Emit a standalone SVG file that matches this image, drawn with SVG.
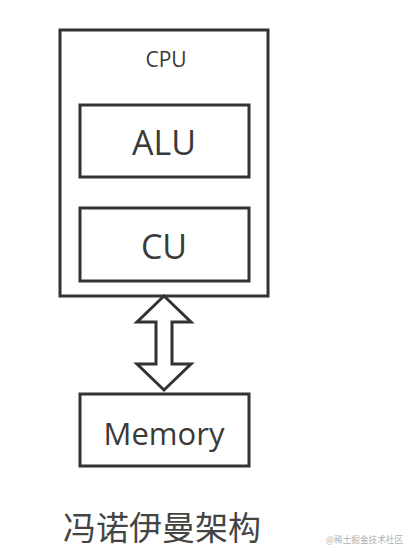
<svg xmlns="http://www.w3.org/2000/svg" width="418" height="556" viewBox="0 0 418 556">
<style>
.box{fill:#fff;stroke:#333;stroke-width:3}
.t{font-family:"Open Sans","Noto Sans",sans-serif;fill:#3a3a3a;text-anchor:middle}
</style>
<rect width="418" height="556" fill="#fff"/>
<g id="cpu">
<rect class="box" x="60" y="30" width="208" height="266"/>
<text class="t" x="166" y="67" font-size="21">CPU</text>
</g>
<g id="alu">
<rect class="box" x="80" y="105" width="169" height="72"/>
<text class="t" x="164" y="155" font-size="34">ALU</text>
</g>
<g id="cu">
<rect class="box" x="80" y="208" width="169" height="73"/>
<text class="t" x="164" y="259" font-size="34">CU</text>
</g>
<g id="memory">
<rect class="box" x="80" y="394" width="169" height="72"/>
<text class="t" x="164" y="445" font-size="31">Memory</text>
</g>
<g id="connectors">
<path d="M164,296 L191,322 L172,322 L172,364 L191,364 L164,390 L137,364 L156,364 L156,322 L137,322 Z" fill="#fff" stroke="#333" stroke-width="3" stroke-linejoin="miter"/>
</g>
<text x="63" y="540" font-family="Noto Sans CJK SC,sans-serif" font-size="33" fill="#444">冯诺伊曼架构</text>
<text x="326" y="543" font-family="Noto Sans CJK SC,sans-serif" font-size="9" textLength="77" lengthAdjust="spacingAndGlyphs" fill="#b0b0b0">@稀土掘金技术社区</text>
</svg>
